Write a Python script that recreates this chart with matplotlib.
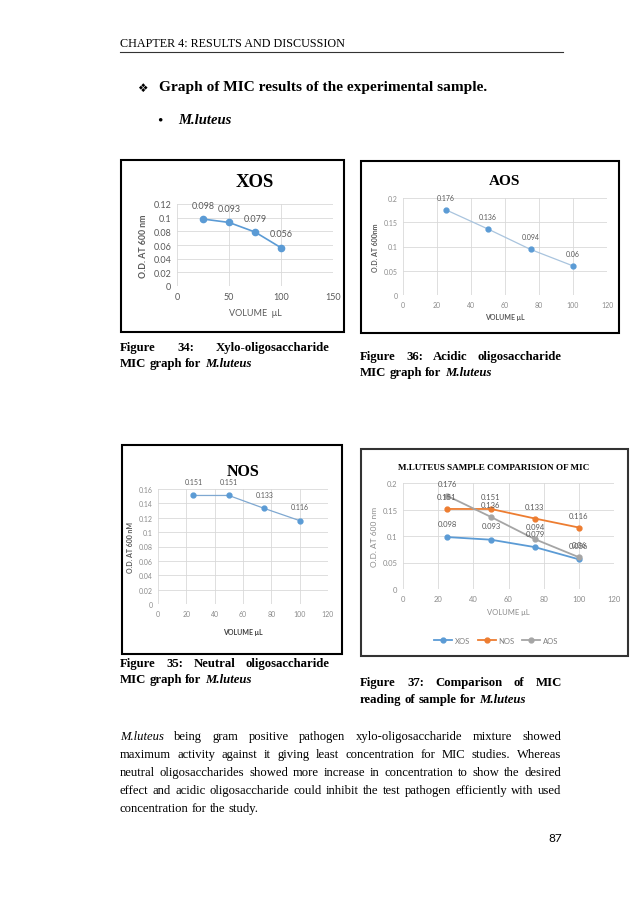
import matplotlib
matplotlib.use('Agg')
import matplotlib.pyplot as plt
from matplotlib.patches import Rectangle
from matplotlib.lines import Line2D

# data
volume = [25, 50, 75, 100]
xos = [0.098, 0.093, 0.079, 0.056]
aos = [0.176, 0.136, 0.094, 0.06]
nos = [0.151, 0.151, 0.133, 0.116]

xos_ticks = [0, 0.02, 0.04, 0.06, 0.08, 0.1, 0.12]
aos_ticks = [0, 0.05, 0.1, 0.15, 0.2]
nos_ticks = [0, 0.02, 0.04, 0.06, 0.08, 0.1, 0.12, 0.14, 0.16]
cmp_ticks = [0, 0.05, 0.1, 0.15, 0.2]

body = [
    'M.luteus being gram positive pathogen xylo-oligosaccharide mixture showed',
    'maximum activity against it giving least concentration for MIC studies. Whereas',
    'neutral oligosaccharides showed more increase in concentration to show the desired',
    'effect and acidic oligosaccharide could inhibit the test pathogen efficiently with used',
    'concentration for the study.',
]

W, H = 638, 903
BLUE = '#5B9BD5'
ORANGE = '#ED7D31'
GREY = '#A5A5A5'
SERIF = 'Liberation Serif'
SANS = 'Lato'

fig = plt.figure(figsize=(W / 100, H / 100), dpi=100)
fig.patch.set_facecolor('white')
renderer = fig.canvas.get_renderer()


def box(l, t, r, b):
    return [l / W, 1 - b / H, (r - l) / W, (b - t) / H]


def ftext(x, y, s, **kw):
    kw.setdefault('family', SERIF)
    kw.setdefault('va', 'center')
    return fig.text(x / W, 1 - y / H, s, **kw)


def frame(l, t, r, b, color='black', lw=1.2):
    fig.patches.append(Rectangle((l / W, 1 - b / H), (r - l) / W, (b - t) / H,
                                 transform=fig.transFigure, fill=False,
                                 edgecolor=color, lw=lw))


def justify(words, x0, x1, y, size, last=False):
    # words: list of (word, weight, style)
    texts = [ftext(x0, y, w, fontsize=size, weight=wt, style=st)
             for w, wt, st in words]
    widths = [t.get_window_extent(renderer).width for t in texts]
    if last or len(texts) == 1:
        gap = size * 0.35
    else:
        gap = max((x1 - x0 - sum(widths)) / (len(texts) - 1), 2)
    x = x0
    for t, w in zip(texts, widths):
        t.set_x(x / W)
        x += w + gap


def style_ax(ax, ticks, xmax, xstep, tsize, tcolor):
    ax.set_xlim(0, xmax)
    ax.set_xticks(range(0, xmax + 1, xstep))
    ax.set_ylim(0, ticks[-1])
    ax.set_yticks(ticks)
    ax.set_yticklabels([('%g' % t) for t in ticks])
    ax.grid(True, color='#D9D9D9', lw=0.6)
    ax.set_axisbelow(True)
    for s in ax.spines.values():
        s.set_visible(False)
    ax.tick_params(length=0, labelsize=tsize, labelcolor=tcolor, pad=4)
    for lab in ax.get_xticklabels() + ax.get_yticklabels():
        lab.set_family(SANS)


def labels(ax, ys, size, dy=9):
    for x, y in zip(volume, ys):
        ax.annotate('%g' % y, (x, y), xytext=(0, dy), textcoords='offset points',
                    ha='center', va='center', fontsize=size, color='#595959',
                    family=SANS)


# page header
ftext(120, 44, 'CHAPTER 4: RESULTS AND DISCUSSION', fontsize=8.7)
fig.add_artist(Line2D([120 / W, 563 / W], [1 - 53 / H, 1 - 53 / H], color='#333333', lw=0.8))
ftext(137, 88, '\u2756', fontsize=8.5, family='DejaVu Sans')
ftext(159, 88, 'Graph of MIC results of the experimental sample.', fontsize=11.05, weight='bold')
ftext(157, 121, '\u2022', fontsize=11)
ftext(178, 121, 'M.luteus', fontsize=10.5, weight='bold', style='italic')

# XOS
frame(121, 161, 344, 333, lw=1.5)
ax1 = fig.add_axes(box(177, 205, 333, 287))
ax1.plot(volume, xos, color=BLUE, lw=1.2, marker='o', ms=4.5)
style_ax(ax1, xos_ticks, 150, 50, 6.5, '#595959')
labels(ax1, xos, 6.5, dy=10)
ax1.set_title('XOS', family=SERIF, weight='bold', fontsize=13.5, pad=13)
ax1.set_xlabel('VOLUME  \u03bcL', family=SANS, fontsize=6.5, color='#595959', labelpad=5)
ax1.set_ylabel('O.D. AT 600 nm', family=SANS, fontsize=6.3, color='#595959', weight='bold', labelpad=4)

# AOS
frame(361, 162, 619, 334, lw=1.5)
ax2 = fig.add_axes(box(403, 199, 607, 296))
ax2.plot(volume, aos, color='#A9C4DE', lw=0.9, marker='o', ms=3.5, mfc=BLUE, mec=BLUE)
style_ax(ax2, aos_ticks, 120, 20, 5, '#8C8C8C')
labels(ax2, aos, 5, dy=9)
ax2.set_title('AOS', family=SERIF, weight='bold', fontsize=11, pad=10)
ax2.set_xlabel('VOLUME \u03bcL', family=SANS, fontsize=5, color='#595959', weight='bold', labelpad=4)
ax2.set_ylabel('O.D. AT 600nm', family=SANS, fontsize=5, color='#595959', weight='bold', labelpad=3)

# NOS
frame(122, 446, 342, 655, lw=1.5)
ax3 = fig.add_axes(box(158, 490, 328, 605))
ax3.plot(volume, nos, color='#7FA8D1', lw=0.9, marker='o', ms=3.5, mfc=BLUE, mec=BLUE)
style_ax(ax3, nos_ticks, 120, 20, 5, '#8C8C8C')
labels(ax3, nos, 5, dy=10)
ax3.set_title('NOS', family=SERIF, weight='bold', fontsize=11.5, pad=10)
ax3.set_xlabel('VOLUME \u03bcL', family=SANS, fontsize=5, color='#404040', weight='bold', labelpad=8)
ax3.set_ylabel('O.D. AT 600 nM', family=SANS, fontsize=5, color='#595959', weight='bold', labelpad=3)

# comparison
frame(361, 450, 628, 657, color='#333333', lw=1.5)
ax4 = fig.add_axes(box(403, 484, 614, 590))
ax4.plot(volume, xos, color=BLUE, lw=1.3, marker='o', ms=3.5, label='XOS')
ax4.plot(volume, nos, color=ORANGE, lw=1.3, marker='o', ms=3.5, label='NOS')
ax4.plot(volume, aos, color=GREY, lw=1.3, marker='o', ms=3.5, label='AOS')
style_ax(ax4, cmp_ticks, 120, 20, 5.5, '#8C8C8C')
labels(ax4, xos, 5.5, dy=10)
labels(ax4, nos, 5.5, dy=9)
labels(ax4, aos, 5.5, dy=9)
ax4.set_title('M.LUTEUS SAMPLE COMPARISION OF MIC', family=SERIF, weight='bold',
              fontsize=6.6, pad=10, x=0.43)
ax4.set_xlabel('VOLUME \u03bcL', family=SANS, fontsize=5.5, color='#8C8C8C', labelpad=5)
ax4.set_ylabel('O.D. AT 600 nm', family=SANS, fontsize=6, color='#8C8C8C', labelpad=3)
ax4.legend(loc='center', bbox_to_anchor=(496 / W, 1 - 641 / H),
           bbox_transform=fig.transFigure, ncol=3, frameon=False,
           prop={'family': SANS, 'size': 5.5}, handlelength=2.4,
           columnspacing=1.0, handletextpad=0.3, labelcolor='#7F7F7F')

# captions
cap = 9.2
justify([('Figure', 'bold', 'normal'), ('34:', 'bold', 'normal'),
         ('Xylo-oligosaccharide', 'bold', 'normal')], 120, 330, 348, cap)
justify([('MIC', 'bold', 'normal'), ('graph', 'bold', 'normal'), ('for', 'bold', 'normal'),
         ('M.luteus', 'bold', 'italic')], 120, 330, 364, cap, last=True)
justify([('Figure', 'bold', 'normal'), ('36:', 'bold', 'normal'), ('Acidic', 'bold', 'normal'),
         ('oligosaccharide', 'bold', 'normal')], 360, 562, 357, cap)
justify([('MIC', 'bold', 'normal'), ('graph', 'bold', 'normal'), ('for', 'bold', 'normal'),
         ('M.luteus', 'bold', 'italic')], 360, 562, 373, cap, last=True)
justify([('Figure', 'bold', 'normal'), ('35:', 'bold', 'normal'), ('Neutral', 'bold', 'normal'),
         ('oligosaccharide', 'bold', 'normal')], 120, 330, 664, cap)
justify([('MIC', 'bold', 'normal'), ('graph', 'bold', 'normal'), ('for', 'bold', 'normal'),
         ('M.luteus', 'bold', 'italic')], 120, 330, 680, cap, last=True)
justify([('Figure', 'bold', 'normal'), ('37:', 'bold', 'normal'), ('Comparison', 'bold', 'normal'),
         ('of', 'bold', 'normal'), ('MIC', 'bold', 'normal')], 360, 562, 683, cap)
justify([('reading', 'bold', 'normal'), ('of', 'bold', 'normal'), ('sample', 'bold', 'normal'),
         ('for', 'bold', 'normal'), ('M.luteus', 'bold', 'italic')], 360, 562, 700, cap, last=True)

# body paragraph
for i, line in enumerate(body):
    words = []
    for w in line.split():
        words.append((w, 'normal', 'italic' if w == 'M.luteus' else 'normal'))
    justify(words, 120, 561, 737 + i * 18, 9.1, last=(i == len(body) - 1))

ftext(562, 838, '87', fontsize=8.5, family=SANS, ha='right')

fig.savefig('out.png', dpi=100, facecolor='white')
